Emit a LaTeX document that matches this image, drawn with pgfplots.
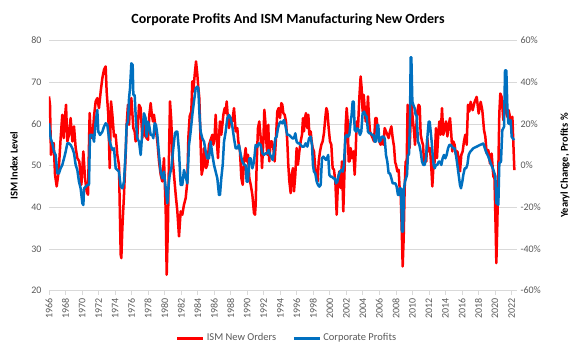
\documentclass[border=0pt]{standalone}
\usepackage{fontspec}
\setmainfont{Carlito}
\usepackage{pgfplots}
\pgfplotsset{compat=1.18}
\definecolor{ismred}{RGB}{255,0,0}
\definecolor{cpblue}{RGB}{0,112,192}
\definecolor{gridgray}{RGB}{217,217,217}
\definecolor{labelgray}{RGB}{89,89,89}
\begin{document}
\begin{tikzpicture}
\useasboundingbox (0,0) rectangle (579pt,355pt);
\begin{axis}[
  at={(49pt,64.4pt)}, anchor=south west,
  scale only axis, width=468pt, height=250pt,
  xmin=1966, xmax=2022.66, ymin=20, ymax=80,
  axis x line*=bottom, axis y line*=left,
  x axis line style={-, draw=gridgray, line width=0.8pt},
  y axis line style={draw=none},
  ymajorgrids, grid style={gridgray, line width=0.8pt},
  ytick={20,30,...,80},
  xtick={1966,1968,...,2022},
  tick align=outside, major tick length=4pt,
  xtick style={draw=gridgray, line width=0.8pt},
  ytick style={draw=none},
  /pgf/number format/assume math mode=true,
  /pgf/number format/1000 sep={},
  xticklabel style={rotate=90, anchor=east, font=\fontsize{10}{12}\selectfont, text=labelgray},
  yticklabel style={font=\fontsize{10}{12}\selectfont, text=labelgray},
  every axis y label/.style={at={(axis description cs:-0.0748,0.5)}, rotate=90, anchor=center},
  ylabel={ISM Index Level},
  ylabel style={font=\bfseries\fontsize{10.5}{12}\selectfont, text=black},
  title={Corporate Profits And ISM Manufacturing New Orders},
  every axis title/.style={at={(axis description cs:0.5107,1.0664)}, anchor=base, font=\bfseries\fontsize{14}{16}\selectfont},
]
\addplot[ismred, line width=2.5pt, line join=round] coordinates {
(1966.00,66.6) (1966.12,64.6) (1966.24,52.6) (1966.40,55.0) (1966.57,55.4) (1966.73,47.8) (1966.93,45.0) (1967.17,48.6)
(1967.41,56.6) (1967.61,62.2) (1967.78,56.6) (1967.90,60.6) (1968.06,64.6) (1968.22,55.8) (1968.42,57.4) (1968.62,61.4)
(1968.83,55.8) (1969.03,59.4) (1969.23,54.2) (1969.43,51.8) (1969.67,51.0) (1969.92,45.4) (1970.16,53.4) (1970.36,47.0)
(1970.56,43.8) (1970.72,43.0) (1970.92,62.6) (1971.09,56.6) (1971.29,57.4) (1971.45,61.8) (1971.65,65.4) (1971.85,66.2)
(1972.05,63.8) (1972.26,67.8) (1972.46,71.0) (1972.66,73.0) (1972.86,73.8) (1972.98,67.8) (1973.18,62.2) (1973.35,49.4)
(1973.51,65.4) (1973.67,62.2) (1973.87,57.0) (1974.07,57.4) (1974.27,52.6) (1974.47,50.2) (1974.68,28.6) (1974.76,27.8)
(1974.88,35.0) (1975.08,43.0) (1975.28,52.6) (1975.40,59.8) (1975.56,64.6) (1975.69,59.8) (1975.81,64.6) (1975.97,66.2)
(1976.09,62.6) (1976.21,59.0) (1976.37,58.2) (1976.49,55.8) (1976.69,56.6) (1976.90,64.6) (1977.10,63.8) (1977.30,56.6)
(1977.42,60.6) (1977.58,57.4) (1977.82,56.6) (1977.99,56.2) (1978.15,62.2) (1978.31,65.0) (1978.43,62.6) (1978.59,60.6)
(1978.71,62.2) (1978.91,59.0) (1979.12,55.8) (1979.32,51.0) (1979.52,47.8) (1979.72,46.2) (1979.92,51.8) (1980.13,39.0)
(1980.25,23.8) (1980.41,36.6) (1980.53,52.6) (1980.65,65.4) (1980.81,60.6) (1980.93,52.6) (1981.13,47.8) (1981.34,43.0)
(1981.54,39.0) (1981.74,33.0) (1981.94,39.0) (1982.14,38.2) (1982.34,40.6) (1982.55,42.2) (1982.75,46.2) (1982.87,56.6)
(1983.03,61.8) (1983.23,63.0) (1983.35,70.2) (1983.47,67.8) (1983.64,71.8) (1983.80,75.0) (1983.96,71.8) (1984.08,68.6)
(1984.20,66.2) (1984.36,55.0) (1984.48,47.8) (1984.64,49.4) (1984.77,54.2) (1984.89,51.0) (1985.01,49.4) (1985.17,50.2)
(1985.37,55.0) (1985.57,56.2) (1985.78,57.4) (1985.90,55.0) (1986.06,57.4) (1986.18,62.2) (1986.30,56.6) (1986.46,51.8)
(1986.58,56.6) (1986.70,60.6) (1986.86,57.4) (1986.99,59.8) (1987.11,62.2) (1987.27,63.8) (1987.39,62.6) (1987.51,65.4)
(1987.63,62.2) (1987.79,59.0) (1987.99,61.4) (1988.20,60.6) (1988.40,63.8) (1988.60,58.2) (1988.80,59.0) (1988.92,55.8)
(1989.12,53.4) (1989.29,47.0) (1989.45,45.4) (1989.61,51.0) (1989.81,54.2) (1989.93,51.0) (1990.09,52.6) (1990.25,47.0)
(1990.42,45.4) (1990.62,43.0) (1990.82,38.6) (1990.94,38.2) (1991.02,40.6) (1991.14,50.2) (1991.30,59.0) (1991.46,60.6)
(1991.63,56.6) (1991.79,49.4) (1991.95,55.8) (1992.07,63.4) (1992.19,60.6) (1992.31,55.8) (1992.43,52.6) (1992.55,59.8)
(1992.67,51.0) (1992.84,55.8) (1993.00,55.8) (1993.16,54.2) (1993.32,51.0) (1993.48,56.6) (1993.64,63.0) (1993.80,63.8)
(1993.97,61.4) (1994.13,65.0) (1994.25,64.6) (1994.37,62.6) (1994.53,62.2) (1994.69,60.6) (1994.85,55.8) (1994.97,50.2)
(1995.10,46.2) (1995.26,43.4) (1995.38,47.8) (1995.54,49.4) (1995.66,43.8) (1995.82,47.8) (1995.98,54.2) (1996.14,50.2)
(1996.31,53.4) (1996.47,55.8) (1996.63,57.4) (1996.75,61.4) (1996.87,58.2) (1996.99,61.4) (1997.11,62.6) (1997.28,59.0)
(1997.40,62.2) (1997.52,57.4) (1997.68,58.2) (1997.80,55.8) (1997.92,54.2) (1998.08,53.4) (1998.24,49.4) (1998.41,47.8)
(1998.53,46.2) (1998.65,51.0) (1998.81,53.4) (1998.97,55.0) (1999.13,55.8) (1999.29,57.8) (1999.45,61.4) (1999.58,63.8)
(1999.70,63.0) (1999.86,59.0) (2000.02,55.8) (2000.18,55.0) (2000.34,49.4) (2000.50,49.0) (2000.67,46.2) (2000.83,38.2)
(2000.99,46.2) (2001.15,48.6) (2001.31,44.6) (2001.47,51.0) (2001.63,39.0) (2001.80,50.2) (2001.92,59.8) (2002.04,63.8)
(2002.16,60.6) (2002.28,51.0) (2002.40,51.0) (2002.52,54.2) (2002.68,51.8) (2002.85,53.4) (2003.01,47.8) (2003.13,53.4)
(2003.25,60.6) (2003.41,59.0) (2003.57,66.2) (2003.73,71.4) (2003.85,68.6) (2003.97,63.0) (2004.10,67.0) (2004.22,63.8)
(2004.34,60.6) (2004.46,60.6) (2004.62,66.6) (2004.74,61.4) (2004.86,58.2) (2005.02,57.4) (2005.19,56.6) (2005.35,55.8)
(2005.51,61.4) (2005.67,61.4) (2005.83,57.4) (2005.99,55.8) (2006.15,55.0) (2006.32,56.6) (2006.48,55.0) (2006.64,59.0)
(2006.80,58.2) (2006.96,57.4) (2007.12,56.6) (2007.28,58.2) (2007.45,59.4) (2007.61,56.6) (2007.77,54.6) (2007.91,50.8)
(2008.01,50.2) (2008.17,48.6) (2008.33,49.0) (2008.45,44.6) (2008.58,43.0) (2008.70,35.0) (2008.82,25.8) (2008.94,32.6)
(2009.06,44.6) (2009.18,51.0) (2009.30,50.2) (2009.42,64.6) (2009.54,60.6) (2009.66,54.2) (2009.79,60.6) (2009.91,64.6)
(2010.03,61.4) (2010.19,58.2) (2010.31,55.0) (2010.43,58.2) (2010.59,63.0) (2010.75,64.6) (2010.88,64.2) (2011.00,57.4)
(2011.16,55.8) (2011.28,55.0) (2011.40,51.0) (2011.56,52.6) (2011.68,51.0) (2011.80,56.6) (2011.97,53.4) (2012.13,54.2)
(2012.29,49.4) (2012.41,45.0) (2012.53,49.4) (2012.69,51.0) (2012.85,59.0) (2012.97,51.8) (2013.10,56.6) (2013.26,60.6)
(2013.42,57.4) (2013.58,63.8) (2013.74,57.4) (2013.90,59.0) (2014.06,60.6) (2014.23,57.0) (2014.39,59.8) (2014.55,61.4)
(2014.71,57.4) (2014.83,53.4) (2014.95,55.8) (2015.11,55.0) (2015.27,52.6) (2015.44,53.4) (2015.60,51.8) (2015.76,48.6)
(2015.92,52.6) (2016.08,53.4) (2016.24,55.8) (2016.40,57.4) (2016.57,55.0) (2016.73,64.6) (2016.89,63.0) (2017.05,65.3)
(2017.29,63.3) (2017.53,65.3) (2017.78,66.5) (2018.02,62.5) (2018.26,65.3) (2018.46,63.3) (2018.67,58.5) (2018.83,56.9)
(2018.99,52.9) (2019.19,53.7) (2019.39,50.5) (2019.59,52.9) (2019.80,47.3) (2019.92,48.1) (2020.08,34.6) (2020.16,26.6)
(2020.28,36.2) (2020.40,48.9) (2020.52,62.5) (2020.64,67.3) (2020.80,66.5) (2021.01,60.9) (2021.17,63.3) (2021.33,66.5)
(2021.49,61.7) (2021.65,63.3) (2021.81,61.7) (2021.97,59.3) (2022.10,61.7) (2022.22,55.3) (2022.34,48.9)
};
\end{axis}
\begin{axis}[
  at={(49pt,64.4pt)}, anchor=south west,
  scale only axis, width=468pt, height=250pt,
  xmin=1966, xmax=2022.66, ymin=-60, ymax=60,
  axis x line=none, axis y line*=right,
  y axis line style={draw=none},
  ytick={-60,-40,...,60},
  yticklabels={-60\%,-40\%,-20\%,0\%,20\%,40\%,60\%},
  ytick style={draw=none},
  yticklabel style={font=\fontsize{10}{12}\selectfont, text=labelgray},
  every axis y label/.style={at={(axis description cs:1.1026,0.5)}, rotate=90, anchor=center},
  ylabel={Yearyl Change, Profits \%},
  ylabel style={font=\bfseries\fontsize{10.5}{12}\selectfont, text=black},
  legend style={at={(axis description cs:0.5085,-0.19)}, anchor=center, draw=none, fill=none,
    font=\fontsize{10.5}{12}\selectfont, text=labelgray,
    /tikz/every even column/.append style={column sep=14pt}},
  legend columns=2,
  legend image code/.code={\draw[#1] (0pt,0pt) -- (26pt,0pt);},
]
\addlegendimage{ismred, line width=3pt}
\addlegendentry{ISM New Orders}
\addplot[cpblue, line width=2.5pt, line join=round, forget plot] coordinates {
(1966.00,20.3) (1966.20,13.1) (1966.40,10.7) (1966.61,6.7) (1966.81,5.1) (1967.01,-3.7) (1967.21,-3.7) (1967.41,-1.3)
(1967.61,0.3) (1967.82,3.5) (1968.02,6.7) (1968.22,10.7) (1968.42,10.7) (1968.62,9.9) (1968.83,8.3) (1969.03,5.9)
(1969.23,0.3) (1969.43,-2.1) (1969.63,-7.7) (1969.83,-10.9) (1970.04,-18.1) (1970.16,-18.9) (1970.24,-10.9) (1970.44,-10.1)
(1970.64,-9.3) (1970.84,-9.3) (1970.96,14.7) (1971.25,14.7) (1971.45,11.5) (1971.65,21.1) (1971.85,26.7) (1971.97,16.3)
(1972.18,14.7) (1972.46,16.3) (1972.66,18.7) (1972.86,20.3) (1973.06,19.5) (1973.27,13.1) (1973.47,9.9) (1973.67,7.5)
(1973.87,8.3) (1974.07,-1.3) (1974.27,-2.1) (1974.47,-2.9) (1974.68,-10.1) (1974.88,-10.9) (1975.08,-7.7) (1975.28,6.7)
(1975.40,19.5) (1975.56,21.1) (1975.69,32.3) (1975.81,37.1) (1975.97,49.1) (1976.13,48.3) (1976.21,33.9) (1976.37,33.9)
(1976.53,21.1) (1976.69,13.1) (1976.90,11.5) (1977.10,5.1) (1977.30,16.3) (1977.50,25.1) (1977.70,22.7) (1977.82,13.9)
(1977.99,21.1) (1978.15,18.7) (1978.31,14.7) (1978.51,14.7) (1978.63,13.1) (1978.79,20.3) (1978.95,19.5) (1979.12,14.7)
(1979.32,5.1) (1979.52,-2.9) (1979.72,-6.1) (1979.92,-2.9) (1980.13,-10.9) (1980.33,-18.1) (1980.45,-10.9) (1980.61,-4.5)
(1980.81,-1.3) (1981.05,8.3) (1981.25,15.5) (1981.38,16.3) (1981.54,16.3) (1981.74,6.7) (1981.94,-9.3) (1982.14,-9.3)
(1982.34,-2.1) (1982.55,-5.3) (1982.75,-8.5) (1982.95,9.9) (1983.15,16.3) (1983.35,24.3) (1983.55,30.7) (1983.76,37.1)
(1983.96,37.9) (1984.08,37.1) (1984.20,25.9) (1984.36,16.3) (1984.56,13.1) (1984.77,11.5) (1984.97,6.7) (1985.17,3.5)
(1985.37,3.5) (1985.57,11.5) (1985.78,5.1) (1985.98,0.3) (1986.18,-2.9) (1986.38,-6.1) (1986.58,-14.1) (1986.70,-14.1)
(1986.86,-6.1) (1987.03,0.3) (1987.19,11.5) (1987.39,16.3) (1987.59,22.7) (1987.79,24.3) (1987.99,22.7) (1988.20,18.7)
(1988.40,13.1) (1988.60,8.3) (1988.80,8.3) (1989.00,9.9) (1989.21,5.1) (1989.41,1.9) (1989.61,0.3) (1989.81,0.3)
(1989.93,-7.7) (1990.09,-7.7) (1990.25,3.5) (1990.42,3.5) (1990.62,-1.3) (1990.82,1.9) (1991.02,9.9) (1991.22,9.1)
(1991.42,10.7) (1991.63,9.9) (1991.83,5.9) (1992.03,5.1) (1992.23,5.9) (1992.43,5.9) (1992.59,7.5) (1992.76,5.1)
(1992.92,4.3) (1993.08,2.7) (1993.24,6.7) (1993.40,13.1) (1993.56,13.9) (1993.72,17.9) (1993.89,20.3) (1994.05,21.1)
(1994.25,20.3) (1994.45,21.9) (1994.65,18.7) (1994.85,14.7) (1995.06,14.7) (1995.26,13.9) (1995.46,13.1) (1995.66,13.1)
(1995.82,15.5) (1995.98,11.5) (1996.14,10.7) (1996.31,10.7) (1996.47,9.9) (1996.67,9.1) (1996.87,9.1) (1997.07,10.7)
(1997.28,9.1) (1997.48,13.1) (1997.68,13.9) (1997.84,9.9) (1997.96,0.3) (1998.08,-2.9) (1998.24,-3.7) (1998.41,-7.7)
(1998.57,-9.3) (1998.73,-10.1) (1998.89,-9.3) (1999.05,3.5) (1999.21,4.3) (1999.37,3.5) (1999.54,2.7) (1999.70,4.0)
(1999.80,5.1) (1999.94,-4.5) (2000.10,-5.3) (2000.26,-5.3) (2000.42,-6.1) (2000.59,-6.1) (2000.75,-8.5) (2000.91,-7.7)
(2001.07,-4.5) (2001.23,-2.9) (2001.39,-2.1) (2001.55,-2.9) (2001.71,0.3) (2001.88,13.9) (2002.04,14.7) (2002.20,13.9)
(2002.36,14.7) (2002.52,21.1) (2002.64,24.3) (2002.76,30.7) (2002.89,30.7) (2003.01,17.1) (2003.17,16.3) (2003.33,17.9)
(2003.49,17.1) (2003.65,14.7) (2003.81,16.3) (2003.97,25.1) (2004.14,25.9) (2004.30,24.3) (2004.46,23.5) (2004.62,16.3)
(2004.78,15.5) (2004.94,15.5) (2005.11,14.7) (2005.27,14.7) (2005.43,11.5) (2005.59,11.5) (2005.75,19.5) (2005.87,19.5)
(2005.99,11.5) (2006.15,12.3) (2006.32,13.9) (2006.48,13.9) (2006.64,13.1) (2006.80,5.1) (2006.96,1.9) (2007.12,-3.7)
(2007.28,-3.7) (2007.45,-6.1) (2007.61,-8.5) (2007.77,-8.5) (2007.93,-8.5) (2008.09,-10.1) (2008.25,-14.1) (2008.37,-14.1)
(2008.49,-10.9) (2008.62,-10.9) (2008.74,-31.7) (2008.86,-31.7) (2008.98,-10.9) (2009.10,-7.7) (2009.22,-6.1) (2009.34,-4.5)
(2009.46,5.1) (2009.58,5.1) (2009.70,21.1) (2009.79,52.0) (2009.87,52.0) (2009.99,30.7) (2010.11,29.1) (2010.27,27.5)
(2010.39,24.3) (2010.51,24.3) (2010.67,11.5) (2010.84,9.9) (2011.00,6.7) (2011.16,1.9) (2011.32,0.3) (2011.48,0.3)
(2011.64,3.5) (2011.80,13.1) (2011.97,21.1) (2012.09,21.1) (2012.21,16.3) (2012.33,11.5) (2012.45,5.1) (2012.57,0.3)
(2012.69,-1.3) (2012.85,0.3) (2013.01,0.3) (2013.18,1.9) (2013.34,1.9) (2013.50,0.3) (2013.66,3.5) (2013.82,5.1)
(2013.98,3.5) (2014.14,5.1) (2014.31,8.3) (2014.47,9.9) (2014.63,9.9) (2014.79,9.1) (2014.95,8.3) (2015.11,8.3)
(2015.27,5.1) (2015.44,0.3) (2015.60,-4.5) (2015.76,-9.3) (2015.88,-10.9) (2016.04,-7.7) (2016.16,-4.5) (2016.33,-1.3)
(2016.49,-1.3) (2016.65,0.3) (2016.81,5.1) (2016.97,6.5) (2017.37,8.3) (2017.78,9.1) (2018.18,9.9) (2018.58,10.6)
(2018.91,6.7) (2019.19,4.3) (2019.47,1.1) (2019.80,-2.1) (2020.04,-5.2) (2020.16,-17.9) (2020.40,-18.8) (2020.52,1.1)
(2020.72,1.9) (2020.88,17.0) (2021.09,18.6) (2021.21,45.7) (2021.37,45.7) (2021.49,28.2) (2021.61,20.2) (2021.77,20.2)
(2021.89,21.8) (2022.02,13.8) (2022.18,13.0) (2022.30,12.2)
};
\addlegendimage{cpblue, line width=3pt}
\addlegendentry{Corporate Profits}
\end{axis}
\end{tikzpicture}
\end{document}
